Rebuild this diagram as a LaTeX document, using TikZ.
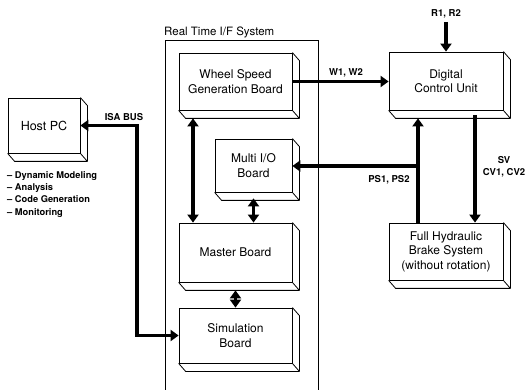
\documentclass[tikz,border=0pt]{standalone}
\usepackage{fontspec}
\setmainfont{TeX Gyre Heros}
\usetikzlibrary{arrows.meta}

\begin{document}
\begin{tikzpicture}[x=1pt,y=-1pt,
    board/.style={draw,line width=.8pt,inner sep=0pt,align=center,
      font=\fontsize{12}{14.5}\selectfont},
    bevel/.style={line width=.8pt,line join=round},
    bus/.style={line width=3.5pt},
    sig/.style={font=\bfseries\fontsize{9.5}{12}\selectfont},
    >={Triangle[length=8pt,width=11pt]}]
  \useasboundingbox (0,0) rectangle (525,390);

  \node[board,minimum width=72pt,minimum height=55pt]  (host)   at ( 44  ,125.5) {\fontsize{12.5}{15}\selectfont Host PC};
  \node[board,minimum width=113pt,minimum height=57pt] (wsgb)   at (235.5, 81.5) {Wheel Speed\\Generation Board};
  \node[board,minimum width=77pt,minimum height=53pt]  (mio)    at (253.5,165.5) {Multi I/O\\Board};
  \node[board,minimum width=113pt,minimum height=59pt] (master) at (235.5,252.5) {Master Board};
  \node[board,minimum width=113pt,minimum height=55pt] (sim)    at (235.5,335.5) {Simulation\\Board};
  \node[board,minimum width=114pt,minimum height=58pt] (dcu)    at (446  , 81  ) {Digital\\Control Unit};
  \node[board,minimum width=114pt,minimum height=57pt] (fhbs)   at (446  ,251.5) {Full Hydraulic\\Brake System\\(without rotation)};

  \foreach \n in {host,wsgb,mio,master,sim,dcu,fhbs}
    \draw[bevel] (\n.north east) -- ++(7,8) -- ([shift={(7,8)}]\n.south east)
      -- ([shift={(7,8)}]\n.south west) -- (\n.south west)
      (\n.south east) -- ++(7,8);

  \draw[line width=.6pt] (165,395) |- (318,40) -- (318,395);
  \node[anchor=west,font=\fontsize{11.5}{13}\selectfont,inner sep=0pt] (rtlbl) at (164,32) {Real Time I/F System};

  \node[sig,anchor=north west,align=left,inner sep=0pt,font=\bfseries\fontsize{9.3}{12.3}\selectfont] (tasks) at (7,171)
    {-- Dynamic Modeling\\-- Analysis\\-- Code Generation\\-- Monitoring};

  \coordinate (isa) at (137,125);
  \node[sig] (isalbl) at (124,117) {ISA BUS};
  \draw[bus,<->] (host.east) -- (host.east -| isa) |- (sim.west);

  \node[sig] (rlbl) at (446,14) {R1, R2};
  \draw[bus,->] (rlbl.south) -- (dcu.north);

  \node[sig] (wlbl) at (346,73) {W1, W2};
  \draw[bus,->] (wsgb.east) -- (wsgb.east -| dcu.west);

  \coordinate (psj) at (418,166);
  \node[sig] (pslbl) at (389,180) {PS1, PS2};
  \draw[bus,->,shorten >=8pt] (fhbs.north -| psj) -- (dcu.south -| psj);
  \draw[bus,->] (psj) -- (psj -| mio.east);

  \coordinate (svj) at (475,160);
  \node[sig] (svlbl) at (504,160) {SV};
  \node[sig] (cvlbl) at (504,173) {CV1, CV2};
  \draw[bus,->,shorten <=5pt] (dcu.south -| svj) -- (fhbs.north -| svj);

  \coordinate (wmj) at (193,160);
  \draw[bus,<->,shorten <=8pt] (wsgb.south -| wmj) -- (master.north -| wmj);
  \draw[bus,<->,shorten <=6pt] (mio.south) -- (master.north -| mio.south);
  \draw[bus,<->,shorten <=8pt] (master.south) -- (sim.north);
\end{tikzpicture}
\end{document}
